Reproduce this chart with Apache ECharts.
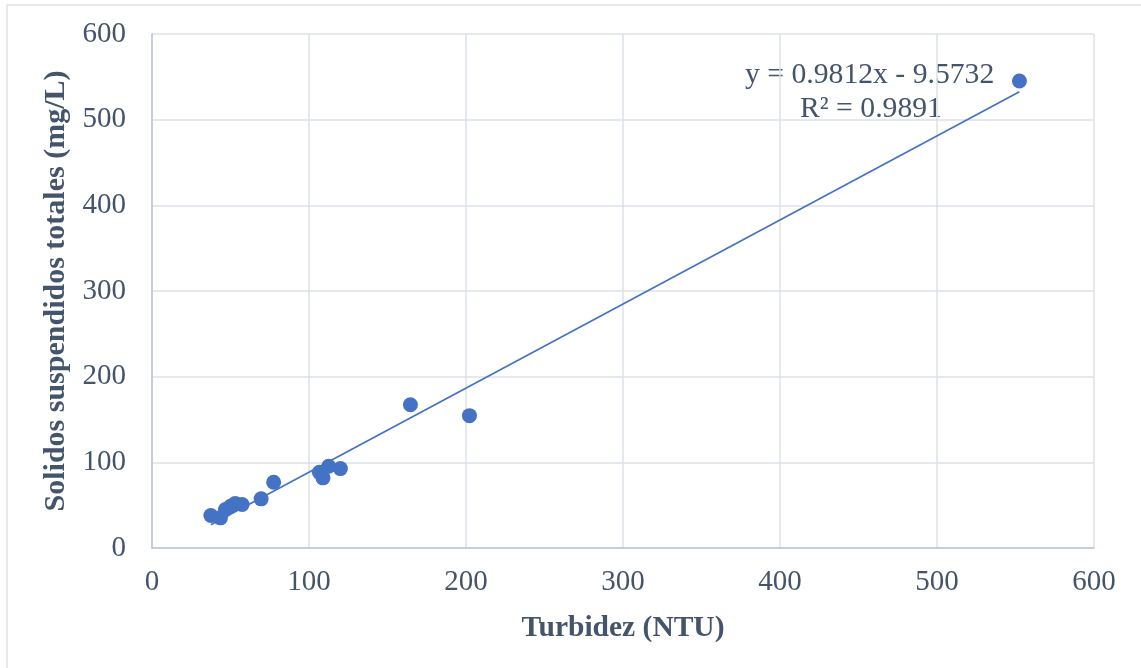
<!DOCTYPE html>
<html>
<head>
<meta charset="utf-8">
<script src="https://cdn.jsdelivr.net/npm/echarts@6/dist/echarts.min.js"></script>
<style>
html,body{margin:0;padding:0;background:#fff;}
#c{width:1141px;height:668px;}
</style>
</head>
<body>
<div id="c"></div>
<script>
const turbidez = [37.5, 43.6, 46.8, 50, 53, 57.4, 69.5, 77.5, 106.6, 108.9, 112.5, 120, 164.6, 202.2, 552.5];
const sst      = [37.9, 35.2, 44.9, 48.7, 51.9, 50.7, 57.4, 76.7, 88.4, 81.9, 95.4, 92.7, 167.3, 154.5, 545.2];
const slope = 0.9812, intercept = -9.5732, r2 = 0.9891;
const xTitle = 'Turbidez (NTU)';
const yTitle = 'Solidos suspendidos totales (mg/L)';

const pts = turbidez.map((x, i) => [x, sst[i]]);
const xmin = Math.min(...turbidez), xmax = Math.max(...turbidez);
const trend = [[xmin, slope * xmin + intercept], [xmax, slope * xmax + intercept]];

const txt = '#44546A';
const font = '"Liberation Serif", "Times New Roman", serif';
const chart = echarts.init(document.getElementById('c'), null, {renderer: 'canvas'});
chart.setOption({
  animation: false,
  backgroundColor: '#fff',
  grid: {left: 152, top: 34, right: 47, bottom: 120, containLabel: false},
  graphic: [
    {type: 'rect', shape: {x: 7, y: 5, width: 1200, height: 700}, style: {fill: 'none', stroke: '#DDE1E6', lineWidth: 1.5}, silent: true},
    {type: 'text', left: 745, top: 60, style: {text: 'y = 0.9812x - 9.5732', font: '29.7px ' + font, fill: txt}},
    {type: 'text', left: 800, top: 94, style: {text: 'R² = ' + r2.toFixed(4), font: '29.7px ' + font, fill: txt}}
  ],
  xAxis: {
    type: 'value', min: 0, max: 600, interval: 100,
    name: xTitle, nameLocation: 'middle', nameGap: 65,
    nameTextStyle: {fontFamily: font, fontSize: 29.5, fontWeight: 'bold', color: txt},
    axisLine: {show: true, lineStyle: {color: '#BCC5D3', width: 1.5}},
    axisTick: {show: false},
    axisLabel: {fontFamily: font, fontSize: 29, color: txt, margin: 20},
    splitLine: {show: true, lineStyle: {color: '#DDE1E8', width: 1.5}}
  },
  yAxis: {
    type: 'value', min: 0, max: 600, interval: 100,
    name: yTitle, nameLocation: 'middle', nameGap: 72, nameRotate: 90,
    nameTextStyle: {fontFamily: font, fontSize: 30, fontWeight: 'bold', color: txt},
    axisLine: {show: true, lineStyle: {color: '#BCC5D3', width: 1.5}},
    axisTick: {show: false},
    axisLabel: {fontFamily: font, fontSize: 29, color: txt, margin: 26},
    splitLine: {show: true, lineStyle: {color: '#DDE1E8', width: 1.5}}
  },
  series: [
    {type: 'line', data: trend, symbol: 'none', lineStyle: {color: '#4472C4', width: 1.7}, z: 2},
    {type: 'scatter', data: pts, symbol: 'circle', symbolSize: 15, itemStyle: {color: '#4472C4', opacity: 1}, z: 3}
  ]
});
</script>
</body>
</html>
